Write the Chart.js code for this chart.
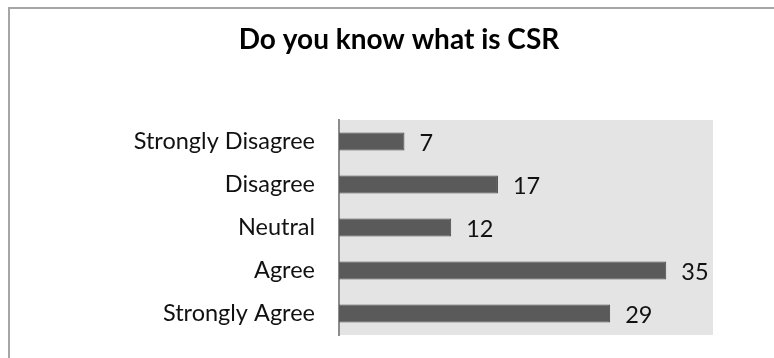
<!DOCTYPE html>
<html>
<head>
<meta charset="utf-8">
<script src="https://cdn.jsdelivr.net/npm/chart.js@4"></script>
<style>
  html, body { margin: 0; padding: 0; background: #fff; overflow: hidden; }
  #frame {
    position: absolute; left: 8px; top: 7px;
    width: 766px; height: 351px;
    border-top: 2px solid #a6a6a6; border-left: 2px solid #a6a6a6;
  }
  #chart { display: block; }
</style>
</head>
<body>
<div id="frame"><canvas id="chart" width="764" height="349"></canvas></div>
<script>
const titleText = 'Do you know what is CSR';
const categories = ['Strongly Disagree', 'Disagree', 'Neutral', 'Agree', 'Strongly Agree'];
const responses = [7, 17, 12, 35, 29];
const axisMax = 40;

const fontFamily = 'Lato, "Open Sans", sans-serif';
const labelSize = 23.5;

// grey plot background behind the bars
const plotBackground = {
  id: 'plotBackground',
  beforeDraw(chart) {
    const { ctx, chartArea: a } = chart;
    ctx.save();
    ctx.fillStyle = '#e4e4e4';
    ctx.fillRect(a.left, a.top, a.right - a.left, a.bottom - a.top);
    ctx.restore();
  }
};

// value written just past the end of each bar
const valueLabels = {
  id: 'valueLabels',
  afterDatasetsDraw(chart) {
    const { ctx } = chart;
    const meta = chart.getDatasetMeta(0);
    ctx.save();
    ctx.fillStyle = '#111';
    ctx.font = labelSize + 'px ' + fontFamily;
    ctx.textAlign = 'left';
    ctx.textBaseline = 'middle';
    meta.data.forEach((bar, i) => {
      ctx.fillText(String(chart.data.datasets[0].data[i]), bar.x + 15, bar.y + 2);
    });
    ctx.restore();
  }
};

new Chart(document.getElementById('chart'), {
  type: 'bar',
  data: {
    labels: categories,
    datasets: [{
      data: responses,
      backgroundColor: '#5a5a5a',
      borderColor: '#484848',
      borderWidth: 1,
      categoryPercentage: 1,
      barPercentage: 0.42
    }]
  },
  options: {
    indexAxis: 'y',
    responsive: false,
    animation: false,
    layout: { autoPadding: false, padding: { left: 75, right: 61, top: 0, bottom: 23 } },
    plugins: {
      legend: { display: false },
      tooltip: { enabled: false },
      title: {
        display: true,
        text: titleText,
        color: '#000',
        font: { family: fontFamily, size: 28, weight: 'bold', lineHeight: 1.2 },
        padding: { top: 14, bottom: 63.4 }
      }
    },
    scales: {
      x: {
        display: false,
        min: 0,
        max: axisMax
      },
      y: {
        grid: { display: false, drawTicks: false },
        border: { display: true, color: '#8c8c8c', width: 2 },
        afterFit(scale) {
          // fixed label column; labels sit inside the plot height, no extra room needed
          scale.width = 254;
          scale.paddingTop = 0;
          scale.paddingBottom = 0;
        },
        ticks: {
          color: '#111',
          padding: 24,
          font: { family: fontFamily, size: labelSize }
        }
      }
    }
  },
  plugins: [plotBackground, valueLabels]
});
</script>
</body>
</html>
